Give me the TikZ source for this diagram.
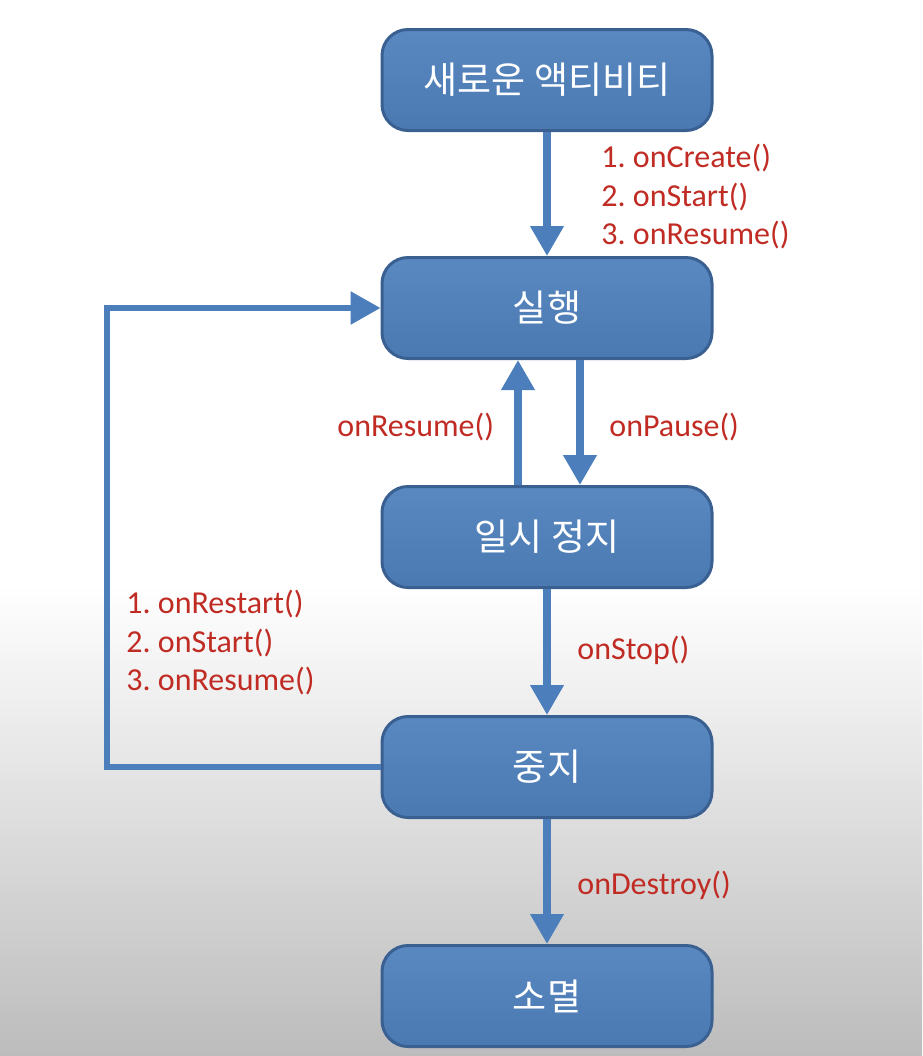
\documentclass[tikz,border=0pt]{standalone}
\usepackage{fontspec}
\setmainfont{Carlito}
\newfontfamily\krfont{Noto Sans CJK KR}
\usetikzlibrary{arrows.meta}
\definecolor{boxfill}{RGB}{79,129,189}
\definecolor{boxline}{RGB}{58,96,146}
\definecolor{flow}{RGB}{76,126,187}
\definecolor{calltext}{RGB}{192,44,36}
\tikzset{
  state/.style={rounded corners=13pt,draw=boxline,line width=1.5pt,
    top color=boxfill!94!white,bottom color=boxfill!94!black,
    minimum width=165pt,minimum height=50.5pt,text=white,
    font=\krfont\fontsize{18.5}{22}\selectfont},
  flowarrow/.style={draw=flow,line width=3.6pt,-{Triangle[width=16pt,length=15pt]}},
  looparrow/.style={flowarrow,line width=3pt},
  call/.style={text=calltext,inner sep=0pt,anchor=west,align=left,
    font=\fontsize{16}{19.25}\selectfont}
}
\frenchspacing
\begin{document}
\begin{tikzpicture}[x=0.5pt,y=-0.5pt]
  \useasboundingbox (0,0) rectangle (922,1056);
  \fill[white] (0,0) rectangle (922,1056);
  \shade[top color=white,bottom color={rgb,255:red,188;green,188;blue,188}] (0,585) rectangle (922,1056);
  %states
  \node[state] (new) at (547,80) {새로운 액티비티};
  \node[state] (run) at (547,308) {실행};
  \node[state] (pause) at (547,537) {일시 정지};
  \node[state] (stop) at (547,767) {중지};
  \node[state] (gone) at (547,996) {소멸};
  \coordinate (loopx) at (107,0);
  %transitions
  \draw[flowarrow] (new.south) -- (run.north);
  \draw[flowarrow] (run.south -| 580,0) -- (pause.north -| 580,0);
  \draw[flowarrow] (pause.north -| 518,0) -- (run.south -| 518,0);
  \draw[flowarrow] (pause.south) -- (stop.north);
  \draw[flowarrow] (stop.south) -- (gone.north);
  \draw[looparrow] (stop.west) -- (stop.west -| loopx) |- (run.west);
  %callbacks
  \node[call] (createcalls) at (601,197) {1. onCreate()\\2. onStart()\\3. onResume()};
  \node[call] (resumecall) at (337,427) {onResume()};
  \node[call] (pausecall) at (609,427) {onPause()};
  \node[call] (stopcall) at (577,650) {onStop()};
  \node[call] (restartcalls) at (126,643) {1. onRestart()\\2. onStart()\\3. onResume()};
  \node[call] (destroycall) at (577,885) {onDestroy()};
\end{tikzpicture}
\end{document}
